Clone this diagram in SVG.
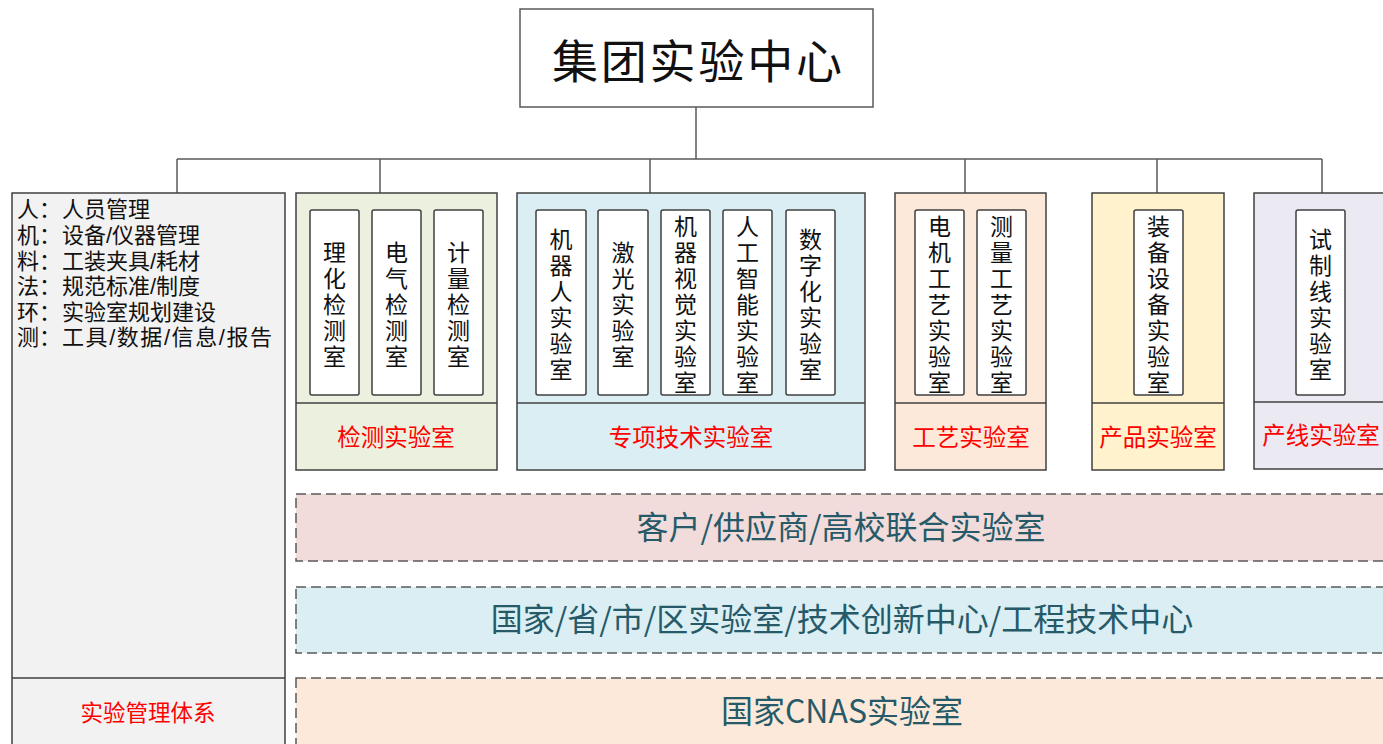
<svg xmlns="http://www.w3.org/2000/svg" width="1383" height="744" viewBox="0 0 1383 744">
<style>
text{font-family:"Noto Sans CJK SC","Noto Sans",sans-serif;}
.frame{stroke:#404040;stroke-width:1.5;}
.inner{fill:#ffffff;stroke:#404040;stroke-width:1.5;}
.vt{font-size:23px;fill:#111;text-anchor:middle;dominant-baseline:central;}
.lbl{font-size:23.5px;fill:#ff0000;text-anchor:middle;dominant-baseline:central;}
.dash{stroke:#595959;stroke-width:1.5;stroke-dasharray:10 5;}
.big{font-size:32px;fill:#265a68;text-anchor:middle;dominant-baseline:central;}
text.lt{font-family:"Liberation Sans","Noto Sans CJK SC",sans-serif;font-size:22px;fill:#111;dominant-baseline:central;}
.conn{stroke:#595959;stroke-width:1.5;fill:none;}
</style>
<rect width="1383" height="744" fill="#ffffff"/>

<g id="connectors">
<line class="conn" x1="696" y1="107" x2="696" y2="159"/>
<line class="conn" x1="177" y1="159" x2="1322" y2="159"/>
<line class="conn" x1="177" y1="159" x2="177" y2="193"/>
<line class="conn" x1="380" y1="159" x2="380" y2="193"/>
<line class="conn" x1="650" y1="159" x2="650" y2="193"/>
<line class="conn" x1="965" y1="159" x2="965" y2="193"/>
<line class="conn" x1="1157" y1="159" x2="1157" y2="193"/>
<line class="conn" x1="1322" y1="159" x2="1322" y2="193"/>
</g>

<g id="root">
<rect x="520" y="9" width="353" height="98" fill="#ffffff" stroke="#595959" stroke-width="1.5"/>
<text x="697" y="58" font-size="46" fill="#111" text-anchor="middle" dominant-baseline="central" textLength="290" lengthAdjust="spacing">集团实验中心</text>
</g>

<g id="mgmt">
<rect class="frame" x="12" y="193" width="273" height="570" fill="#f2f2f2"/>
<line class="frame" x1="12" y1="678" x2="285" y2="678"/>
<text class="lt"><tspan x="17" y="209">人：</tspan><tspan x="62" y="209">人员管理</tspan><tspan x="17" y="235">机：</tspan><tspan x="62" y="235">设备/仪器管理</tspan><tspan x="17" y="260.5">料：</tspan><tspan x="62" y="260.5">工装夹具/耗材</tspan><tspan x="17" y="286">法：</tspan><tspan x="62" y="286">规范标准/制度</tspan><tspan x="17" y="311.5">环：</tspan><tspan x="62" y="311.5">实验室规划建设</tspan><tspan x="17" y="337">测：</tspan><tspan x="62" y="337" textLength="210" lengthAdjust="spacing">工具/数据/信息/报告</tspan></text>
<text class="lbl" x="148" y="711" style="font-size:22.5px">实验管理体系</text>
</g>

<g id="detect">
<rect class="frame" x="296" y="193" width="201" height="277" fill="#ebf1de"/>
<line class="frame" x1="296" y1="403" x2="497" y2="403"/>
<rect class="inner" x="310" y="210" width="49" height="185" rx="2"/>
<rect class="inner" x="372" y="210" width="49" height="185" rx="2"/>
<rect class="inner" x="434" y="210" width="49" height="185" rx="2"/>
<text class="vt" x="334.5 334.5 334.5 334.5 334.5" y="250.5 276.5 302.5 328.5 354.5">理化检测室</text>
<text class="vt" x="396.5 396.5 396.5 396.5 396.5" y="250.5 276.5 302.5 328.5 354.5">电气检测室</text>
<text class="vt" x="458.5 458.5 458.5 458.5 458.5" y="250.5 276.5 302.5 328.5 354.5">计量检测室</text>
<text class="lbl" x="396" y="436">检测实验室</text>
</g>

<g id="special">
<rect class="frame" x="517" y="193" width="348" height="277" fill="#daeef3"/>
<line class="frame" x1="517" y1="403" x2="865" y2="403"/>
<rect class="inner" x="536" y="210" width="50" height="185" rx="2"/>
<rect class="inner" x="598" y="210" width="50" height="185" rx="2"/>
<rect class="inner" x="661" y="210" width="49" height="185" rx="2"/>
<rect class="inner" x="723" y="210" width="49" height="185" rx="2"/>
<rect class="inner" x="786" y="210" width="49" height="185" rx="2"/>
<text class="vt" x="561 561 561 561 561 561" y="237.5 263.5 289.5 315.5 341.5 367.5">机器人实验室</text>
<text class="vt" x="623 623 623 623 623" y="250.5 276.5 302.5 328.5 354.5">激光实验室</text>
<text class="vt" x="685.5 685.5 685.5 685.5 685.5 685.5 685.5" y="224.5 250.5 276.5 302.5 328.5 354.5 380.5">机器视觉实验室</text>
<text class="vt" x="747.5 747.5 747.5 747.5 747.5 747.5 747.5" y="224.5 250.5 276.5 302.5 328.5 354.5 380.5">人工智能实验室</text>
<text class="vt" x="810.5 810.5 810.5 810.5 810.5 810.5" y="237.5 263.5 289.5 315.5 341.5 367.5">数字化实验室</text>
<text class="lbl" x="691" y="436">专项技术实验室</text>
</g>

<g id="craft">
<rect class="frame" x="895" y="193" width="151" height="277" fill="#fde9d9"/>
<line class="frame" x1="895" y1="403" x2="1046" y2="403"/>
<rect class="inner" x="915" y="210" width="49" height="185" rx="2"/>
<rect class="inner" x="977" y="210" width="49" height="185" rx="2"/>
<text class="vt" x="939.5 939.5 939.5 939.5 939.5 939.5 939.5" y="224.5 250.5 276.5 302.5 328.5 354.5 380.5">电机工艺实验室</text>
<text class="vt" x="1001.5 1001.5 1001.5 1001.5 1001.5 1001.5 1001.5" y="224.5 250.5 276.5 302.5 328.5 354.5 380.5">测量工艺实验室</text>
<text class="lbl" x="971" y="436">工艺实验室</text>
</g>

<g id="product">
<rect class="frame" x="1092" y="193" width="132" height="277" fill="#fff2cc"/>
<line class="frame" x1="1092" y1="403" x2="1224" y2="403"/>
<rect class="inner" x="1134" y="210" width="49" height="185" rx="2"/>
<text class="vt" x="1158.5 1158.5 1158.5 1158.5 1158.5 1158.5 1158.5" y="224.5 250.5 276.5 302.5 328.5 354.5 380.5">装备设备实验室</text>
<text class="lbl" x="1158" y="436">产品实验室</text>
</g>

<g id="prodline">
<rect class="frame" x="1254" y="193" width="140" height="276" fill="#ebe9f1"/>
<line class="frame" x1="1254" y1="402" x2="1394" y2="402"/>
<rect class="inner" x="1296" y="210" width="49" height="185" rx="2"/>
<text class="vt" x="1320.5 1320.5 1320.5 1320.5 1320.5 1320.5" y="237.5 263.5 289.5 315.5 341.5 367.5">试制线实验室</text>
<text class="lbl" x="1321" y="434">产线实验室</text>
</g>

<g id="joint">
<rect class="dash" x="296" y="494" width="1110" height="67" fill="#f2dcdb"/>
<text class="big" x="841" y="525">客户/供应商/高校联合实验室</text>
</g>

<g id="gov">
<rect class="dash" x="296" y="587" width="1110" height="66" fill="#daeef3"/>
<text class="big" x="842" y="617">国家/省/市/区实验室/技术创新中心/工程技术中心</text>
</g>

<g id="cnas">
<rect class="dash" x="296" y="678" width="1110" height="80" fill="#fde9d9"/>
<text class="big" x="842" y="709">国家CNAS实验室</text>
</g>
</svg>
